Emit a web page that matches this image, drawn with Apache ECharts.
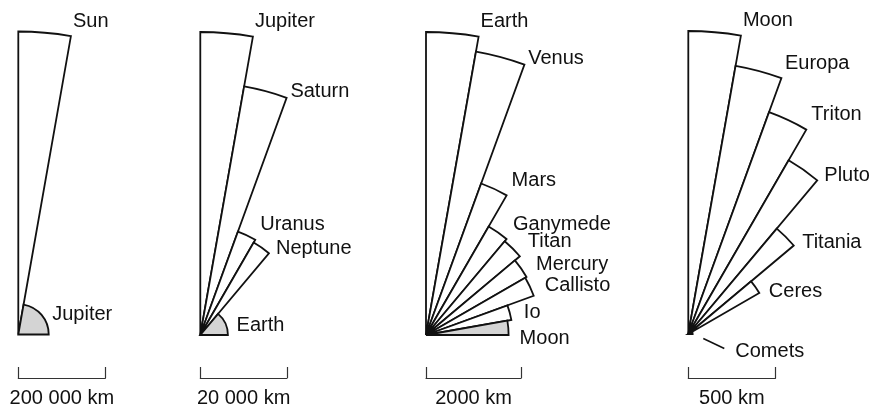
<!DOCTYPE html>
<html>
<head>
<meta charset="utf-8">
<script src="https://cdn.jsdelivr.net/npm/echarts@6/dist/echarts.min.js"></script>
<style>
html,body{margin:0;padding:0;background:#fff;}
#chart{width:879px;height:409px;}
</style>
</head>
<body>
<div id="chart"></div>
<script>
// ---- data (radii in km) ----
const panel1Names = ['Sun', 'Jupiter'];
const panel1Radii = [696000, 69911];
const panel2Names = ['Jupiter', 'Saturn', 'Uranus', 'Neptune', 'Earth'];
const panel2Radii = [69911, 58232, 25362, 24622, 6371];
const panel3Names = ['Earth', 'Venus', 'Mars', 'Ganymede', 'Titan', 'Mercury', 'Callisto', 'Io', 'Moon'];
const panel3Radii = [6371, 6052, 3390, 2634, 2575, 2440, 2410, 1822, 1737];
const panel4Names = ['Moon', 'Europa', 'Triton', 'Pluto', 'Titania', 'Ceres', 'Comets'];
const panel4Radii = [1737, 1561, 1353, 1150, 789, 470, 25];
const scaleBarKm = [200000, 20000, 2000, 500];
const scaleBarLabels = ['200 000 km', '20 000 km', '2000 km', '500 km'];

// ---- layout ----
const panelNames = [panel1Names, panel2Names, panel3Names, panel4Names];
const panelRadii = [panel1Radii, panel2Radii, panel3Radii, panel4Radii];
const centers = [[18.3, 334.5], [200.3, 335], [426, 335], [688.3, 334]];
const R = 303;
const STEP = 10;
const FONT = '20px "Liberation Sans", Arial, Helvetica, sans-serif';
const INK = '#111';

function makeRender(names, radii) {
  return function (params, api) {
    const i = params.dataIndex;
    const r = api.value(0), a0 = api.value(1), a1 = api.value(2), gray = api.value(3);
    const o = api.coord([0, 0]);
    const corner = api.coord([r, a1]);
    const rpx = corner[2];
    const children = [{
      type: 'sector',
      shape: { cx: o[0], cy: o[1], r: rpx, r0: 0,
               startAngle: -a0 * Math.PI / 180, endAngle: -a1 * Math.PI / 180, clockwise: true },
      style: { fill: gray ? '#d4d4d4' : '#fff', stroke: INK, lineWidth: 1.8, lineJoin: 'miter' }
    }];
    const txt = function (x, y) {
      return { type: 'text', x: x, y: y,
        style: { text: names[i], font: FONT, fill: INK, align: 'left', verticalAlign: 'middle' } };
    };
    if (rpx >= 8) {
      const la = a1 + (a0 - a1 - STEP) / 2;
      const p = api.coord([r, la]);
      const rad = la * Math.PI / 180;
      const crowded = i < radii.length - 1 && radii[i + 1] / radii[i] > 0.75;
      if (i === 0 || crowded) {
        const dx = 2 + 0.15 * (80 - la);
        const up = Math.min(16, 6 + la / 4);
        children.push(txt(p[0] + dx, p[1] - up + 1));
      } else {
        children.push(txt(p[0] + 11 * Math.cos(rad), p[1] - 10 * Math.sin(rad) + 3));
      }
    } else {
      children.push({ type: 'line', shape: { x1: o[0] + 15, y1: o[1] + 4.5, x2: o[0] + 36, y2: o[1] + 14.5 },
        style: { stroke: INK, lineWidth: 1.5 } });
      children.push(txt(o[0] + 47, o[1] + 17));
    }
    return { type: 'group', children: children };
  };
}

const polar = [], angleAxis = [], radiusAxis = [], series = [], grid = [], xAxis = [], yAxis = [];
panelNames.forEach(function (names, pi) {
  const radii = panelRadii[pi];
  const maxKm = Math.max.apply(null, radii);
  polar.push({ center: centers[pi], radius: R });
  angleAxis.push({ polarIndex: pi, type: 'value', min: 0, max: 360, startAngle: 0, clockwise: false, show: false });
  radiusAxis.push({ polarIndex: pi, type: 'value', min: 0, max: maxKm, show: false });
  const data = radii.map(function (v, k) {
    const last = k === radii.length - 1;
    return [v, 90 - STEP * k, last ? 0 : 90 - STEP * (k + 1), last ? 1 : 0];
  });
  series.push({ type: 'custom', coordinateSystem: 'polar', polarIndex: pi, data: data,
    renderItem: makeRender(names, radii), silent: true });

  grid.push({ left: centers[pi][0], top: 369, height: 11, width: scaleBarKm[pi] / maxKm * R });
  xAxis.push({ gridIndex: pi, type: 'value', min: 0, max: scaleBarKm[pi], interval: scaleBarKm[pi],
    axisLine: { show: true, onZero: false, lineStyle: { color: '#333', width: 1.2 } },
    axisTick: { show: true, inside: true, length: 11, lineStyle: { color: '#333', width: 1.2 } },
    axisLabel: { show: false }, splitLine: { show: false },
    name: scaleBarLabels[pi], nameLocation: 'middle', nameGap: 10,
    nameTextStyle: { color: INK, fontSize: 20, fontFamily: '"Liberation Sans", Arial, sans-serif' } });
  yAxis.push({ gridIndex: pi, type: 'value', min: 0, max: 1, show: false });
});

const chart = echarts.init(document.getElementById('chart'), null, { renderer: 'canvas' });
chart.setOption({
  backgroundColor: '#fff',
  animation: false,
  polar: polar, angleAxis: angleAxis, radiusAxis: radiusAxis,
  grid: grid, xAxis: xAxis, yAxis: yAxis,
  series: series
});
</script>
</body>
</html>
